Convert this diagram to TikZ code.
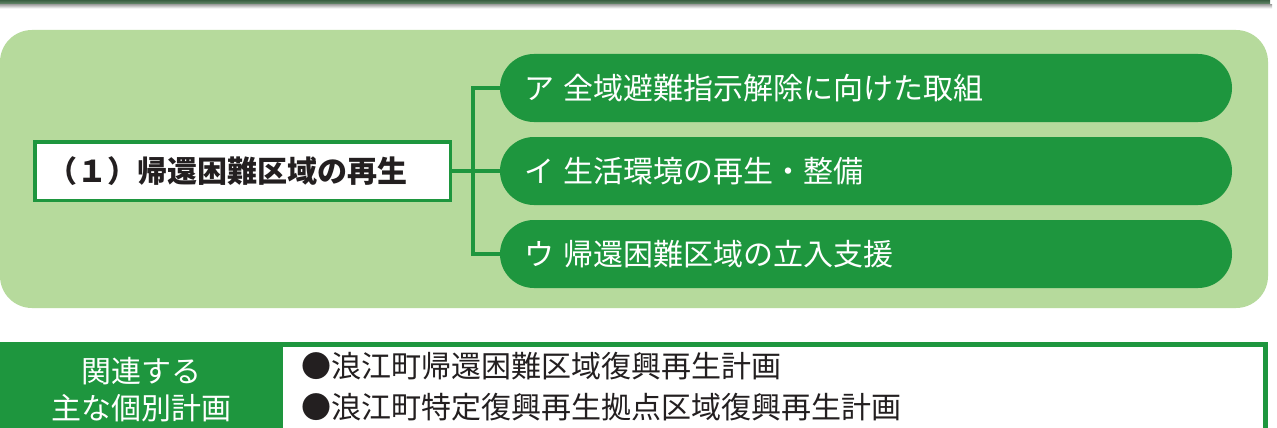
\documentclass[tikz,border=0pt]{standalone}
\usepackage{fontspec}
\newfontfamily\jp{Noto Sans CJK JP}
\definecolor{pillgreen}{RGB}{30,150,62}
\definecolor{panelgreen}{RGB}{182,218,156}
\definecolor{bartop}{RGB}{58,95,66}
\definecolor{barbot}{RGB}{110,145,115}
\definecolor{txtdark}{RGB}{35,31,32}
\begin{document}
\begin{tikzpicture}[x=1pt,y=-1pt,
  pill/.style={rectangle, rounded corners=33.9pt, fill=pillgreen, minimum width=732pt,
    minimum height=68pt, text width=684pt, inner xsep=24pt, inner ysep=0pt, align=left,
    text=white, font=\jp\fontsize{30}{36}\selectfont},
  mainbox/.style={rectangle, draw=pillgreen, line width=3.5pt, fill=white,
    minimum width=415.5pt, minimum height=58.5pt, text width=390pt, inner xsep=12.7pt,
    inner ysep=0pt, align=left, text=txtdark, font=\jp\bfseries\fontsize{30}{36}\selectfont},
  conn/.style={draw=pillgreen, line width=3.3pt},
  itemtxt/.style={anchor=west, inner sep=0pt, text=txtdark, font=\jp\fontsize{30}{36}\selectfont},
  celltxt/.style={align=center, inner sep=0pt, text=white, font=\jp\fontsize{30}{37}\selectfont}]
\useasboundingbox (0,0) rectangle (1277,428);
\clip (0,0) rectangle (1277,428);
\fill[white] (0,0) rectangle (1277,428);
% top bar
\shade[top color=bartop, bottom color=barbot] (0,0) rectangle (1270,4.5);
\shade[top color=black!35, bottom color=white] (0,4.5) rectangle (1272,8.5);
% panel
\fill[panelgreen, rounded corners=32pt] (0,30) rectangle (1268,308);
% main box
\node[mainbox] (box) at (242.5,171) {（１）帰還困難区域の再生};
% pills
\node[pill] (p1) at (866,88) {ア 全域避難指示解除に向けた取組};
\node[pill] (p2) at (866,171) {イ 生活環境の再生・整備};
\node[pill] (p3) at (866,254) {ウ 帰還困難区域の立入支援};
% connectors
\coordinate (j) at (473,171);
\draw[conn] (p1.west) -| (j) |- (p3.west);
\draw[conn] (box.east) -- (p2.west);
% bottom table
\fill[pillgreen] (0,342) rectangle (283,440);
\draw[pillgreen, line width=5pt] (283,344.5) -- (1265.5,344.5) -- (1265.5,440);
\node[celltxt] (cell) at (141,389.5) {関連する\\主な個別計画};
\node[itemtxt] (i1) at (301,366) {●浪江町帰還困難区域復興再生計画};
\node[itemtxt] (i2) at (301,407) {●浪江町特定復興再生拠点区域復興再生計画};
\end{tikzpicture}
\end{document}
